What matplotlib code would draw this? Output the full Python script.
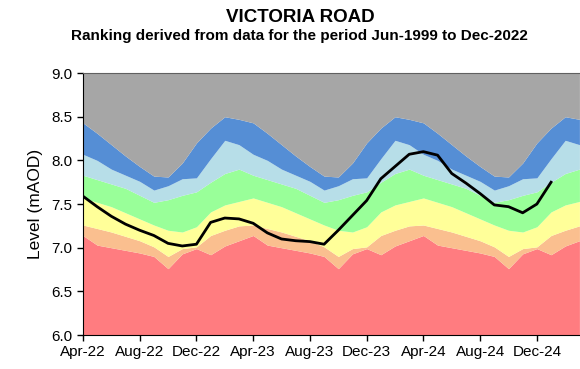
import numpy as np
import matplotlib.pyplot as plt

plt.rcParams['font.family'] = ['Liberation Sans', 'DejaVu Sans']

# monthly ranking band tops, Apr..Mar (mAOD)
red_top = [7.14, 7.03, 7.00, 6.97, 6.94, 6.90, 6.76, 6.93, 6.99, 6.92, 7.02, 7.08]
orange_top = [7.26, 7.22, 7.18, 7.13, 7.08, 7.01, 6.90, 6.99, 7.01, 7.14, 7.20, 7.25]
yellow_top = [7.57, 7.52, 7.47, 7.40, 7.33, 7.26, 7.20, 7.18, 7.24, 7.41, 7.49, 7.53]
green_top = [7.83, 7.78, 7.73, 7.68, 7.60, 7.52, 7.55, 7.60, 7.64, 7.75, 7.85, 7.90]
lblue_top = [8.07, 8.00, 7.90, 7.83, 7.76, 7.66, 7.71, 7.79, 7.80, 8.02, 8.23, 8.18]
blue_top = [8.43, 8.31, 8.18, 8.05, 7.93, 7.82, 7.81, 7.97, 8.20, 8.37, 8.50, 8.47]

# observed level, Apr-22 onwards
level = [7.59, 7.47, 7.36, 7.27, 7.20, 7.14, 7.05, 7.02, 7.04, 7.29, 7.34, 7.33,
         7.28, 7.17, 7.10, 7.08, 7.07, 7.04, 7.20, 7.37, 7.54, 7.79, 7.93, 8.07,
         8.10, 8.06, 7.85, 7.74, 7.62, 7.49, 7.47, 7.40, 7.50, 7.75]

tick_labels = ['Apr-22', 'Aug-22', 'Dec-22', 'Apr-23', 'Aug-23', 'Dec-23',
               'Apr-24', 'Aug-24', 'Dec-24']

n_years = 3
x = np.arange(12 * n_years)
bounds = [np.full(len(x), 5.0)]
for b in [red_top, orange_top, yellow_top, green_top, lblue_top, blue_top]:
    bounds.append(np.tile(b, n_years))
bounds.append(np.full(len(x), 9.5))

colors = ['#FF7C80', '#FABF8F', '#FFFF99', '#99FF99', '#B7DEE8', '#558ED5', '#A6A6A6']

fig = plt.figure(figsize=(5.8, 3.69), dpi=100)
ax = fig.add_axes([0.143, 0.092, 0.856, 0.710])

for i, c in enumerate(colors):
    ax.fill_between(x, bounds[i], bounds[i + 1], color=c, linewidth=0)

ax.plot(np.arange(len(level)), level, color='black', linewidth=2)

ax.set_xlim(0, 35)
ax.set_ylim(6.0, 9.0)
ax.set_yticks(np.arange(6.0, 9.01, 0.5))
ax.set_yticklabels([f'{v:.1f}' for v in np.arange(6.0, 9.01, 0.5)], fontsize=11)
ax.set_xticks(np.arange(0, 33, 4))
ax.set_xticklabels(tick_labels, fontsize=11)
ax.tick_params(direction='out', length=4, width=1)
ax.set_ylabel('Level (mAOD)', fontsize=12.5, labelpad=6)

for s in ['left', 'bottom']:
    ax.spines[s].set_color('black')
ax.spines['top'].set_color('#606060')
ax.spines['right'].set_visible(False)

fig.text(0.517, 0.953, 'VICTORIA ROAD', ha='center', va='center',
         fontsize=13.5, fontweight='bold')
fig.text(0.517, 0.903, 'Ranking derived from data for the period Jun-1999 to Dec-2022',
         ha='center', va='center', fontsize=11, fontweight='bold')

fig.savefig('out.png', dpi=100)
